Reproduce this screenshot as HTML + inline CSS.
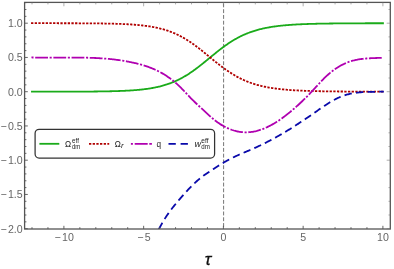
<!DOCTYPE html>
<html><head><meta charset="utf-8"><title>plot</title>
<style>
html,body{margin:0;padding:0;background:#fff;}
body{width:394px;height:269px;overflow:hidden;font-family:"Liberation Sans",sans-serif;}
svg{display:block;will-change:transform;font-family:"Liberation Sans",sans-serif;}
.tk line{stroke:#555;stroke-width:0.9;}
.lab text{font-size:10.6px;fill:#666;}
.cv path{fill:none;stroke-width:1.8;}
.lg text{fill:#222;}
</style></head><body>
<svg width="394" height="269" viewBox="0 0 394 269">
<rect x="0" y="0" width="394" height="269" fill="#fff"/>
<clipPath id="cp"><rect x="24.6" y="2.4" width="365.7" height="226.6"/></clipPath>
<line x1="223.60" y1="3.42" x2="223.60" y2="229.0" stroke="#666" stroke-width="0.9" stroke-dasharray="3.9 1.88"/>
<g class="cv" clip-path="url(#cp)">
<path d="M31.04,91.69 L31.84,91.69 L32.64,91.69 L33.44,91.69 L34.24,91.69 L35.03,91.69 L35.83,91.69 L36.63,91.69 L37.43,91.69 L38.23,91.69 L39.03,91.69 L39.82,91.69 L40.62,91.69 L41.42,91.69 L42.22,91.69 L43.02,91.69 L43.81,91.69 L44.61,91.69 L45.41,91.69 L46.21,91.69 L47.01,91.69 L47.81,91.69 L48.60,91.69 L49.40,91.68 L50.20,91.68 L51.00,91.68 L51.80,91.68 L52.59,91.68 L53.39,91.68 L54.19,91.68 L54.99,91.68 L55.79,91.68 L56.59,91.68 L57.38,91.68 L58.18,91.67 L58.98,91.67 L59.78,91.67 L60.58,91.67 L61.38,91.67 L62.17,91.67 L62.97,91.67 L63.77,91.67 L64.57,91.66 L65.37,91.66 L66.16,91.66 L66.96,91.66 L67.76,91.66 L68.56,91.66 L69.36,91.65 L70.16,91.65 L70.95,91.65 L71.75,91.65 L72.55,91.64 L73.35,91.64 L74.15,91.64 L74.95,91.64 L75.74,91.63 L76.54,91.63 L77.34,91.63 L78.14,91.62 L78.94,91.62 L79.73,91.62 L80.53,91.61 L81.33,91.61 L82.13,91.61 L82.93,91.60 L83.73,91.60 L84.52,91.59 L85.32,91.59 L86.12,91.58 L86.92,91.58 L87.72,91.57 L88.51,91.57 L89.31,91.56 L90.11,91.55 L90.91,91.55 L91.71,91.54 L92.51,91.53 L93.30,91.53 L94.10,91.52 L94.90,91.51 L95.70,91.50 L96.50,91.49 L97.30,91.48 L98.09,91.47 L98.89,91.47 L99.69,91.45 L100.49,91.44 L101.29,91.43 L102.08,91.42 L102.88,91.41 L103.68,91.40 L104.48,91.38 L105.28,91.37 L106.08,91.36 L106.87,91.34 L107.67,91.32 L108.47,91.31 L109.27,91.29 L110.07,91.27 L110.87,91.26 L111.66,91.24 L112.46,91.22 L113.26,91.20 L114.06,91.17 L114.86,91.15 L115.65,91.13 L116.45,91.10 L117.25,91.08 L118.05,91.05 L118.85,91.02 L119.65,90.99 L120.44,90.96 L121.24,90.93 L122.04,90.90 L122.84,90.87 L123.64,90.83 L124.43,90.80 L125.23,90.76 L126.03,90.72 L126.83,90.68 L127.63,90.63 L128.43,90.59 L129.22,90.54 L130.02,90.49 L130.82,90.44 L131.62,90.39 L132.42,90.34 L133.22,90.28 L134.01,90.22 L134.81,90.16 L135.61,90.09 L136.41,90.03 L137.21,89.96 L138.00,89.89 L138.80,89.81 L139.60,89.74 L140.40,89.66 L141.20,89.57 L142.00,89.49 L142.79,89.40 L143.59,89.30 L144.39,89.21 L145.19,89.11 L145.99,89.00 L146.79,88.89 L147.58,88.78 L148.38,88.66 L149.18,88.54 L149.98,88.42 L150.78,88.29 L151.57,88.15 L152.37,88.01 L153.17,87.87 L153.97,87.72 L154.77,87.56 L155.57,87.40 L156.36,87.23 L157.16,87.06 L157.96,86.88 L158.76,86.70 L159.56,86.51 L160.35,86.31 L161.15,86.11 L161.95,85.90 L162.75,85.68 L163.55,85.45 L164.35,85.22 L165.14,84.98 L165.94,84.73 L166.74,84.48 L167.54,84.21 L168.34,83.94 L169.14,83.66 L169.93,83.37 L170.73,83.08 L171.53,82.77 L172.33,82.45 L173.13,82.13 L173.92,81.80 L174.72,81.46 L175.52,81.10 L176.32,80.74 L177.12,80.37 L177.92,79.99 L178.71,79.60 L179.51,79.20 L180.31,78.79 L181.11,78.37 L181.91,77.94 L182.71,77.50 L183.50,77.05 L184.30,76.59 L185.10,76.12 L185.90,75.64 L186.70,75.15 L187.49,74.66 L188.29,74.15 L189.09,73.63 L189.89,73.10 L190.69,72.57 L191.49,72.02 L192.28,71.47 L193.08,70.91 L193.88,70.34 L194.68,69.76 L195.48,69.17 L196.27,68.58 L197.07,67.98 L197.87,67.37 L198.67,66.76 L199.47,66.14 L200.27,65.52 L201.06,64.89 L201.86,64.25 L202.66,63.61 L203.46,62.97 L204.26,62.32 L205.06,61.68 L205.85,61.02 L206.65,60.37 L207.45,59.71 L208.25,59.06 L209.05,58.40 L209.84,57.74 L210.64,57.09 L211.44,56.43 L212.24,55.77 L213.04,55.12 L213.84,54.47 L214.63,53.82 L215.43,53.18 L216.23,52.54 L217.03,51.90 L217.83,51.27 L218.63,50.64 L219.42,50.02 L220.22,49.40 L221.02,48.79 L221.82,48.18 L222.62,47.58 L223.41,46.99 L224.21,46.41 L225.01,45.83 L225.81,45.27 L226.61,44.71 L227.41,44.15 L228.20,43.61 L229.00,43.08 L229.80,42.55 L230.60,42.03 L231.40,41.52 L232.19,41.03 L232.99,40.54 L233.79,40.06 L234.59,39.59 L235.39,39.13 L236.19,38.67 L236.98,38.23 L237.78,37.80 L238.58,37.38 L239.38,36.96 L240.18,36.56 L240.98,36.16 L241.77,35.78 L242.57,35.40 L243.37,35.04 L244.17,34.68 L244.97,34.33 L245.76,33.99 L246.56,33.66 L247.36,33.34 L248.16,33.02 L248.96,32.72 L249.76,32.42 L250.55,32.13 L251.35,31.85 L252.15,31.58 L252.95,31.31 L253.75,31.05 L254.55,30.80 L255.34,30.56 L256.14,30.32 L256.94,30.09 L257.74,29.87 L258.54,29.66 L259.33,29.45 L260.13,29.24 L260.93,29.05 L261.73,28.85 L262.53,28.67 L263.33,28.49 L264.12,28.32 L264.92,28.15 L265.72,27.99 L266.52,27.83 L267.32,27.67 L268.11,27.53 L268.91,27.38 L269.71,27.24 L270.51,27.11 L271.31,26.98 L272.11,26.85 L272.90,26.73 L273.70,26.61 L274.50,26.50 L275.30,26.39 L276.10,26.28 L276.90,26.18 L277.69,26.08 L278.49,25.98 L279.29,25.89 L280.09,25.80 L280.89,25.71 L281.68,25.63 L282.48,25.55 L283.28,25.47 L284.08,25.39 L284.88,25.32 L285.68,25.25 L286.47,25.18 L287.27,25.11 L288.07,25.05 L288.87,24.98 L289.67,24.92 L290.47,24.87 L291.26,24.81 L292.06,24.76 L292.86,24.70 L293.66,24.65 L294.46,24.61 L295.25,24.56 L296.05,24.51 L296.85,24.47 L297.65,24.43 L298.45,24.38 L299.25,24.34 L300.04,24.31 L300.84,24.27 L301.64,24.23 L302.44,24.20 L303.24,24.17 L304.03,24.13 L304.83,24.10 L305.63,24.07 L306.43,24.04 L307.23,24.01 L308.03,23.99 L308.82,23.96 L309.62,23.94 L310.42,23.91 L311.22,23.89 L312.02,23.86 L312.82,23.84 L313.61,23.82 L314.41,23.80 L315.21,23.78 L316.01,23.76 L316.81,23.74 L317.60,23.72 L318.40,23.71 L319.20,23.69 L320.00,23.67 L320.80,23.66 L321.60,23.64 L322.39,23.63 L323.19,23.61 L323.99,23.60 L324.79,23.59 L325.59,23.58 L326.39,23.56 L327.18,23.55 L327.98,23.54 L328.78,23.53 L329.58,23.52 L330.38,23.51 L331.17,23.50 L331.97,23.49 L332.77,23.48 L333.57,23.47 L334.37,23.46 L335.17,23.45 L335.96,23.44 L336.76,23.44 L337.56,23.43 L338.36,23.42 L339.16,23.41 L339.95,23.41 L340.75,23.40 L341.55,23.39 L342.35,23.39 L343.15,23.38 L343.95,23.38 L344.74,23.37 L345.54,23.36 L346.34,23.36 L347.14,23.35 L347.94,23.35 L348.74,23.34 L349.53,23.34 L350.33,23.34 L351.13,23.33 L351.93,23.33 L352.73,23.32 L353.52,23.32 L354.32,23.31 L355.12,23.31 L355.92,23.31 L356.72,23.30 L357.52,23.30 L358.31,23.30 L359.11,23.29 L359.91,23.29 L360.71,23.29 L361.51,23.29 L362.31,23.28 L363.10,23.28 L363.90,23.28 L364.70,23.28 L365.50,23.27 L366.30,23.27 L367.09,23.27 L367.89,23.27 L368.69,23.26 L369.49,23.26 L370.29,23.26 L371.09,23.26 L371.88,23.26 L372.68,23.26 L373.48,23.25 L374.28,23.25 L375.08,23.25 L375.87,23.25 L376.67,23.25 L377.47,23.25 L378.27,23.24 L379.07,23.24 L379.87,23.24 L380.66,23.24 L381.46,23.24 L382.26,23.24 L383.06,23.24 L383.86,23.24" stroke="#1aab1a"/>
<path d="M31.04,23.21 L31.84,23.21 L32.64,23.21 L33.44,23.21 L34.24,23.21 L35.03,23.21 L35.83,23.21 L36.63,23.21 L37.43,23.21 L38.23,23.21 L39.03,23.21 L39.82,23.21 L40.62,23.21 L41.42,23.21 L42.22,23.21 L43.02,23.21 L43.81,23.21 L44.61,23.21 L45.41,23.21 L46.21,23.21 L47.01,23.21 L47.81,23.21 L48.60,23.21 L49.40,23.22 L50.20,23.22 L51.00,23.22 L51.80,23.22 L52.59,23.22 L53.39,23.22 L54.19,23.22 L54.99,23.22 L55.79,23.22 L56.59,23.22 L57.38,23.22 L58.18,23.23 L58.98,23.23 L59.78,23.23 L60.58,23.23 L61.38,23.23 L62.17,23.23 L62.97,23.23 L63.77,23.23 L64.57,23.24 L65.37,23.24 L66.16,23.24 L66.96,23.24 L67.76,23.24 L68.56,23.24 L69.36,23.25 L70.16,23.25 L70.95,23.25 L71.75,23.25 L72.55,23.26 L73.35,23.26 L74.15,23.26 L74.95,23.26 L75.74,23.27 L76.54,23.27 L77.34,23.27 L78.14,23.28 L78.94,23.28 L79.73,23.28 L80.53,23.29 L81.33,23.29 L82.13,23.29 L82.93,23.30 L83.73,23.30 L84.52,23.31 L85.32,23.31 L86.12,23.32 L86.92,23.32 L87.72,23.33 L88.51,23.33 L89.31,23.34 L90.11,23.35 L90.91,23.35 L91.71,23.36 L92.51,23.37 L93.30,23.37 L94.10,23.38 L94.90,23.39 L95.70,23.40 L96.50,23.41 L97.30,23.42 L98.09,23.43 L98.89,23.43 L99.69,23.45 L100.49,23.46 L101.29,23.47 L102.08,23.48 L102.88,23.49 L103.68,23.50 L104.48,23.52 L105.28,23.53 L106.08,23.54 L106.87,23.56 L107.67,23.58 L108.47,23.59 L109.27,23.61 L110.07,23.63 L110.87,23.64 L111.66,23.66 L112.46,23.68 L113.26,23.70 L114.06,23.73 L114.86,23.75 L115.65,23.77 L116.45,23.80 L117.25,23.82 L118.05,23.85 L118.85,23.88 L119.65,23.91 L120.44,23.94 L121.24,23.97 L122.04,24.00 L122.84,24.03 L123.64,24.07 L124.43,24.10 L125.23,24.14 L126.03,24.18 L126.83,24.22 L127.63,24.27 L128.43,24.31 L129.22,24.36 L130.02,24.41 L130.82,24.46 L131.62,24.51 L132.42,24.56 L133.22,24.62 L134.01,24.68 L134.81,24.74 L135.61,24.81 L136.41,24.87 L137.21,24.94 L138.00,25.01 L138.80,25.09 L139.60,25.16 L140.40,25.24 L141.20,25.33 L142.00,25.41 L142.79,25.50 L143.59,25.60 L144.39,25.69 L145.19,25.79 L145.99,25.90 L146.79,26.01 L147.58,26.12 L148.38,26.24 L149.18,26.36 L149.98,26.48 L150.78,26.61 L151.57,26.75 L152.37,26.89 L153.17,27.03 L153.97,27.18 L154.77,27.34 L155.57,27.50 L156.36,27.67 L157.16,27.84 L157.96,28.02 L158.76,28.20 L159.56,28.39 L160.35,28.59 L161.15,28.79 L161.95,29.00 L162.75,29.22 L163.55,29.45 L164.35,29.68 L165.14,29.92 L165.94,30.17 L166.74,30.42 L167.54,30.69 L168.34,30.96 L169.14,31.24 L169.93,31.53 L170.73,31.82 L171.53,32.13 L172.33,32.45 L173.13,32.77 L173.92,33.10 L174.72,33.44 L175.52,33.80 L176.32,34.16 L177.12,34.53 L177.92,34.91 L178.71,35.30 L179.51,35.70 L180.31,36.11 L181.11,36.53 L181.91,36.96 L182.71,37.40 L183.50,37.85 L184.30,38.31 L185.10,38.78 L185.90,39.26 L186.70,39.75 L187.49,40.24 L188.29,40.75 L189.09,41.27 L189.89,41.80 L190.69,42.33 L191.49,42.88 L192.28,43.43 L193.08,43.99 L193.88,44.56 L194.68,45.14 L195.48,45.73 L196.27,46.32 L197.07,46.92 L197.87,47.53 L198.67,48.14 L199.47,48.76 L200.27,49.38 L201.06,50.01 L201.86,50.65 L202.66,51.29 L203.46,51.93 L204.26,52.58 L205.06,53.22 L205.85,53.88 L206.65,54.53 L207.45,55.19 L208.25,55.84 L209.05,56.50 L209.84,57.16 L210.64,57.81 L211.44,58.47 L212.24,59.13 L213.04,59.78 L213.84,60.43 L214.63,61.08 L215.43,61.72 L216.23,62.36 L217.03,63.00 L217.83,63.63 L218.63,64.26 L219.42,64.88 L220.22,65.50 L221.02,66.11 L221.82,66.72 L222.62,67.32 L223.41,67.91 L224.21,68.49 L225.01,69.07 L225.81,69.63 L226.61,70.19 L227.41,70.75 L228.20,71.29 L229.00,71.82 L229.80,72.35 L230.60,72.87 L231.40,73.38 L232.19,73.87 L232.99,74.36 L233.79,74.84 L234.59,75.31 L235.39,75.77 L236.19,76.23 L236.98,76.67 L237.78,77.10 L238.58,77.52 L239.38,77.94 L240.18,78.34 L240.98,78.74 L241.77,79.12 L242.57,79.50 L243.37,79.86 L244.17,80.22 L244.97,80.57 L245.76,80.91 L246.56,81.24 L247.36,81.56 L248.16,81.88 L248.96,82.18 L249.76,82.48 L250.55,82.77 L251.35,83.05 L252.15,83.32 L252.95,83.59 L253.75,83.85 L254.55,84.10 L255.34,84.34 L256.14,84.58 L256.94,84.81 L257.74,85.03 L258.54,85.24 L259.33,85.45 L260.13,85.66 L260.93,85.85 L261.73,86.05 L262.53,86.23 L263.33,86.41 L264.12,86.58 L264.92,86.75 L265.72,86.91 L266.52,87.07 L267.32,87.23 L268.11,87.37 L268.91,87.52 L269.71,87.66 L270.51,87.79 L271.31,87.92 L272.11,88.05 L272.90,88.17 L273.70,88.29 L274.50,88.40 L275.30,88.51 L276.10,88.62 L276.90,88.72 L277.69,88.82 L278.49,88.92 L279.29,89.01 L280.09,89.10 L280.89,89.19 L281.68,89.27 L282.48,89.35 L283.28,89.43 L284.08,89.51 L284.88,89.58 L285.68,89.65 L286.47,89.72 L287.27,89.79 L288.07,89.85 L288.87,89.92 L289.67,89.98 L290.47,90.03 L291.26,90.09 L292.06,90.14 L292.86,90.20 L293.66,90.25 L294.46,90.29 L295.25,90.34 L296.05,90.39 L296.85,90.43 L297.65,90.47 L298.45,90.52 L299.25,90.56 L300.04,90.59 L300.84,90.63 L301.64,90.67 L302.44,90.70 L303.24,90.73 L304.03,90.77 L304.83,90.80 L305.63,90.83 L306.43,90.86 L307.23,90.89 L308.03,90.91 L308.82,90.94 L309.62,90.96 L310.42,90.99 L311.22,91.01 L312.02,91.04 L312.82,91.06 L313.61,91.08 L314.41,91.10 L315.21,91.12 L316.01,91.14 L316.81,91.16 L317.60,91.18 L318.40,91.19 L319.20,91.21 L320.00,91.23 L320.80,91.24 L321.60,91.26 L322.39,91.27 L323.19,91.29 L323.99,91.30 L324.79,91.31 L325.59,91.32 L326.39,91.34 L327.18,91.35 L327.98,91.36 L328.78,91.37 L329.58,91.38 L330.38,91.39 L331.17,91.40 L331.97,91.41 L332.77,91.42 L333.57,91.43 L334.37,91.44 L335.17,91.45 L335.96,91.46 L336.76,91.46 L337.56,91.47 L338.36,91.48 L339.16,91.49 L339.95,91.49 L340.75,91.50 L341.55,91.51 L342.35,91.51 L343.15,91.52 L343.95,91.52 L344.74,91.53 L345.54,91.54 L346.34,91.54 L347.14,91.55 L347.94,91.55 L348.74,91.56 L349.53,91.56 L350.33,91.56 L351.13,91.57 L351.93,91.57 L352.73,91.58 L353.52,91.58 L354.32,91.59 L355.12,91.59 L355.92,91.59 L356.72,91.60 L357.52,91.60 L358.31,91.60 L359.11,91.61 L359.91,91.61 L360.71,91.61 L361.51,91.61 L362.31,91.62 L363.10,91.62 L363.90,91.62 L364.70,91.62 L365.50,91.63 L366.30,91.63 L367.09,91.63 L367.89,91.63 L368.69,91.64 L369.49,91.64 L370.29,91.64 L371.09,91.64 L371.88,91.64 L372.68,91.64 L373.48,91.65 L374.28,91.65 L375.08,91.65 L375.87,91.65 L376.67,91.65 L377.47,91.65 L378.27,91.66 L379.07,91.66 L379.87,91.66 L380.66,91.66 L381.46,91.66 L382.26,91.66 L383.06,91.66 L383.86,91.66" stroke="#b00000" stroke-width="2.2" stroke-dasharray="2.3 1.37"/>
<path d="M31.04,57.43 L31.84,57.45 L32.64,57.48 L33.44,57.50 L34.24,57.52 L35.03,57.53 L35.83,57.55 L36.63,57.57 L37.43,57.58 L38.23,57.59 L39.03,57.61 L39.82,57.62 L40.62,57.62 L41.42,57.63 L42.22,57.64 L43.02,57.65 L43.81,57.65 L44.61,57.66 L45.41,57.66 L46.21,57.66 L47.01,57.66 L47.81,57.66 L48.60,57.66 L49.40,57.66 L50.20,57.66 L51.00,57.66 L51.80,57.66 L52.59,57.66 L53.39,57.65 L54.19,57.65 L54.99,57.65 L55.79,57.64 L56.59,57.64 L57.38,57.63 L58.18,57.63 L58.98,57.62 L59.78,57.62 L60.58,57.61 L61.38,57.61 L62.17,57.60 L62.97,57.60 L63.77,57.59 L64.57,57.59 L65.37,57.59 L66.16,57.58 L66.96,57.58 L67.76,57.57 L68.56,57.57 L69.36,57.57 L70.16,57.57 L70.95,57.57 L71.75,57.56 L72.55,57.56 L73.35,57.56 L74.15,57.57 L74.95,57.57 L75.74,57.57 L76.54,57.57 L77.34,57.58 L78.14,57.58 L78.94,57.59 L79.73,57.60 L80.53,57.60 L81.33,57.61 L82.13,57.62 L82.93,57.64 L83.73,57.65 L84.52,57.66 L85.32,57.68 L86.12,57.69 L86.92,57.71 L87.72,57.73 L88.51,57.75 L89.31,57.78 L90.11,57.80 L90.91,57.83 L91.71,57.85 L92.51,57.88 L93.30,57.91 L94.10,57.95 L94.90,57.98 L95.70,58.02 L96.50,58.06 L97.30,58.10 L98.09,58.14 L98.89,58.19 L99.69,58.23 L100.49,58.28 L101.29,58.33 L102.08,58.39 L102.88,58.44 L103.68,58.50 L104.48,58.56 L105.28,58.62 L106.08,58.69 L106.87,58.75 L107.67,58.82 L108.47,58.90 L109.27,58.97 L110.07,59.05 L110.87,59.13 L111.66,59.22 L112.46,59.30 L113.26,59.39 L114.06,59.48 L114.86,59.58 L115.65,59.68 L116.45,59.78 L117.25,59.88 L118.05,59.99 L118.85,60.10 L119.65,60.21 L120.44,60.33 L121.24,60.45 L122.04,60.58 L122.84,60.70 L123.64,60.83 L124.43,60.97 L125.23,61.10 L126.03,61.25 L126.83,61.39 L127.63,61.54 L128.43,61.69 L129.22,61.85 L130.02,62.01 L130.82,62.17 L131.62,62.34 L132.42,62.51 L133.22,62.68 L134.01,62.86 L134.81,63.04 L135.61,63.23 L136.41,63.42 L137.21,63.62 L138.00,63.82 L138.80,64.02 L139.60,64.23 L140.40,64.45 L141.20,64.67 L142.00,64.90 L142.79,65.13 L143.59,65.37 L144.39,65.62 L145.19,65.87 L145.99,66.13 L146.79,66.40 L147.58,66.67 L148.38,66.96 L149.18,67.25 L149.98,67.54 L150.78,67.85 L151.57,68.17 L152.37,68.49 L153.17,68.82 L153.97,69.17 L154.77,69.52 L155.57,69.88 L156.36,70.25 L157.16,70.63 L157.96,71.02 L158.76,71.43 L159.56,71.84 L160.35,72.27 L161.15,72.70 L161.95,73.15 L162.75,73.61 L163.55,74.08 L164.35,74.56 L165.14,75.06 L165.94,75.57 L166.74,76.09 L167.54,76.63 L168.34,77.17 L169.14,77.74 L169.93,78.31 L170.73,78.90 L171.53,79.51 L172.33,80.12 L173.13,80.76 L173.92,81.41 L174.72,82.07 L175.52,82.75 L176.32,83.44 L177.12,84.15 L177.92,84.88 L178.71,85.62 L179.51,86.38 L180.31,87.16 L181.11,87.95 L181.91,88.76 L182.71,89.58 L183.50,90.41 L184.30,91.25 L185.10,92.09 L185.90,92.94 L186.70,93.79 L187.49,94.64 L188.29,95.49 L189.09,96.34 L189.89,97.17 L190.69,98.01 L191.49,98.83 L192.28,99.64 L193.08,100.44 L193.88,101.22 L194.68,101.99 L195.48,102.75 L196.27,103.50 L197.07,104.25 L197.87,104.99 L198.67,105.73 L199.47,106.47 L200.27,107.21 L201.06,107.95 L201.86,108.70 L202.66,109.45 L203.46,110.20 L204.26,110.94 L205.06,111.69 L205.85,112.43 L206.65,113.17 L207.45,113.91 L208.25,114.63 L209.05,115.35 L209.84,116.07 L210.64,116.77 L211.44,117.46 L212.24,118.14 L213.04,118.81 L213.84,119.47 L214.63,120.10 L215.43,120.73 L216.23,121.33 L217.03,121.92 L217.83,122.50 L218.63,123.05 L219.42,123.59 L220.22,124.12 L221.02,124.62 L221.82,125.11 L222.62,125.59 L223.41,126.04 L224.21,126.48 L225.01,126.91 L225.81,127.32 L226.61,127.71 L227.41,128.08 L228.20,128.44 L229.00,128.79 L229.80,129.11 L230.60,129.42 L231.40,129.72 L232.19,130.00 L232.99,130.26 L233.79,130.51 L234.59,130.74 L235.39,130.95 L236.19,131.15 L236.98,131.34 L237.78,131.50 L238.58,131.65 L239.38,131.79 L240.18,131.91 L240.98,132.02 L241.77,132.10 L242.57,132.18 L243.37,132.24 L244.17,132.28 L244.97,132.31 L245.76,132.32 L246.56,132.31 L247.36,132.29 L248.16,132.26 L248.96,132.21 L249.76,132.15 L250.55,132.07 L251.35,131.97 L252.15,131.86 L252.95,131.74 L253.75,131.59 L254.55,131.44 L255.34,131.27 L256.14,131.09 L256.94,130.89 L257.74,130.67 L258.54,130.45 L259.33,130.21 L260.13,129.95 L260.93,129.68 L261.73,129.40 L262.53,129.11 L263.33,128.80 L264.12,128.48 L264.92,128.14 L265.72,127.80 L266.52,127.44 L267.32,127.07 L268.11,126.68 L268.91,126.29 L269.71,125.88 L270.51,125.46 L271.31,125.03 L272.11,124.59 L272.90,124.14 L273.70,123.67 L274.50,123.20 L275.30,122.72 L276.10,122.22 L276.90,121.71 L277.69,121.20 L278.49,120.67 L279.29,120.14 L280.09,119.59 L280.89,119.04 L281.68,118.47 L282.48,117.90 L283.28,117.32 L284.08,116.73 L284.88,116.13 L285.68,115.52 L286.47,114.90 L287.27,114.28 L288.07,113.64 L288.87,113.00 L289.67,112.35 L290.47,111.70 L291.26,111.04 L292.06,110.36 L292.86,109.69 L293.66,109.00 L294.46,108.31 L295.25,107.61 L296.05,106.90 L296.85,106.19 L297.65,105.47 L298.45,104.74 L299.25,104.00 L300.04,103.26 L300.84,102.51 L301.64,101.76 L302.44,100.99 L303.24,100.22 L304.03,99.44 L304.83,98.66 L305.63,97.87 L306.43,97.07 L307.23,96.27 L308.03,95.46 L308.82,94.64 L309.62,93.81 L310.42,92.98 L311.22,92.14 L312.02,91.30 L312.82,90.45 L313.61,89.59 L314.41,88.72 L315.21,87.85 L316.01,86.98 L316.81,86.11 L317.60,85.24 L318.40,84.37 L319.20,83.51 L320.00,82.65 L320.80,81.79 L321.60,80.95 L322.39,80.12 L323.19,79.30 L323.99,78.49 L324.79,77.70 L325.59,76.92 L326.39,76.17 L327.18,75.43 L327.98,74.71 L328.78,74.01 L329.58,73.33 L330.38,72.66 L331.17,72.01 L331.97,71.38 L332.77,70.77 L333.57,70.18 L334.37,69.60 L335.17,69.04 L335.96,68.49 L336.76,67.97 L337.56,67.46 L338.36,66.96 L339.16,66.48 L339.95,66.02 L340.75,65.58 L341.55,65.15 L342.35,64.73 L343.15,64.33 L343.95,63.95 L344.74,63.58 L345.54,63.23 L346.34,62.89 L347.14,62.57 L347.94,62.26 L348.74,61.97 L349.53,61.69 L350.33,61.43 L351.13,61.18 L351.93,60.94 L352.73,60.72 L353.52,60.50 L354.32,60.30 L355.12,60.12 L355.92,59.94 L356.72,59.78 L357.52,59.62 L358.31,59.48 L359.11,59.34 L359.91,59.21 L360.71,59.10 L361.51,58.99 L362.31,58.89 L363.10,58.80 L363.90,58.71 L364.70,58.63 L365.50,58.56 L366.30,58.49 L367.09,58.43 L367.89,58.38 L368.69,58.32 L369.49,58.28 L370.29,58.24 L371.09,58.20 L371.88,58.16 L372.68,58.13 L373.48,58.09 L374.28,58.06 L375.08,58.04 L375.87,58.01 L376.67,57.98 L377.47,57.96 L378.27,57.93 L379.07,57.90 L379.87,57.87 L380.66,57.84 L381.46,57.81 L382.26,57.78" stroke="#b000b0" stroke-dasharray="2.1 1.65 12.8 1.64" stroke-dashoffset="-0.4"/>
<path d="M157.00,233.00 L157.76,231.43 L158.52,229.90 L159.28,228.42 L160.03,226.97 L160.79,225.57 L161.55,224.20 L162.31,222.87 L163.07,221.57 L163.83,220.31 L164.59,219.08 L165.35,217.88 L166.10,216.71 L166.86,215.57 L167.62,214.46 L168.38,213.37 L169.14,212.30 L169.90,211.26 L170.66,210.23 L171.42,209.23 L172.17,208.24 L172.93,207.27 L173.69,206.32 L174.45,205.38 L175.21,204.45 L175.97,203.53 L176.73,202.62 L177.49,201.72 L178.24,200.83 L179.00,199.94 L179.76,199.05 L180.52,198.17 L181.28,197.29 L182.04,196.42 L182.80,195.56 L183.56,194.70 L184.31,193.85 L185.07,193.00 L185.83,192.17 L186.59,191.34 L187.35,190.52 L188.11,189.71 L188.87,188.90 L189.62,188.11 L190.38,187.33 L191.14,186.56 L191.90,185.79 L192.66,185.04 L193.42,184.30 L194.18,183.57 L194.94,182.86 L195.69,182.15 L196.45,181.46 L197.21,180.79 L197.97,180.12 L198.73,179.48 L199.49,178.84 L200.25,178.22 L201.01,177.62 L201.76,177.03 L202.52,176.45 L203.28,175.88 L204.04,175.33 L204.80,174.78 L205.56,174.24 L206.32,173.72 L207.08,173.20 L207.83,172.68 L208.59,172.18 L209.35,171.68 L210.11,171.18 L210.87,170.68 L211.63,170.19 L212.39,169.70 L213.15,169.21 L213.90,168.72 L214.66,168.23 L215.42,167.74 L216.18,167.25 L216.94,166.77 L217.70,166.28 L218.46,165.80 L219.21,165.33 L219.97,164.85 L220.73,164.38 L221.49,163.91 L222.25,163.45 L223.01,162.99 L223.77,162.54 L224.53,162.09 L225.28,161.65 L226.04,161.21 L226.80,160.78 L227.56,160.36 L228.32,159.94 L229.08,159.54 L229.84,159.13 L230.60,158.74 L231.35,158.35 L232.11,157.97 L232.87,157.60 L233.63,157.23 L234.39,156.86 L235.15,156.51 L235.91,156.15 L236.67,155.80 L237.42,155.46 L238.18,155.12 L238.94,154.78 L239.70,154.44 L240.46,154.11 L241.22,153.78 L241.98,153.46 L242.74,153.13 L243.49,152.81 L244.25,152.49 L245.01,152.16 L245.77,151.84 L246.53,151.52 L247.29,151.20 L248.05,150.88 L248.81,150.56 L249.56,150.24 L250.32,149.91 L251.08,149.59 L251.84,149.26 L252.60,148.93 L253.36,148.59 L254.12,148.26 L254.87,147.92 L255.63,147.57 L256.39,147.23 L257.15,146.88 L257.91,146.53 L258.67,146.17 L259.43,145.81 L260.19,145.45 L260.94,145.09 L261.70,144.72 L262.46,144.35 L263.22,143.98 L263.98,143.60 L264.74,143.22 L265.50,142.84 L266.26,142.45 L267.01,142.07 L267.77,141.67 L268.53,141.28 L269.29,140.88 L270.05,140.48 L270.81,140.08 L271.57,139.68 L272.33,139.27 L273.08,138.86 L273.84,138.45 L274.60,138.03 L275.36,137.61 L276.12,137.19 L276.88,136.77 L277.64,136.34 L278.40,135.91 L279.15,135.48 L279.91,135.04 L280.67,134.61 L281.43,134.17 L282.19,133.72 L282.95,133.28 L283.71,132.83 L284.46,132.38 L285.22,131.93 L285.98,131.47 L286.74,131.02 L287.50,130.56 L288.26,130.09 L289.02,129.63 L289.78,129.16 L290.53,128.69 L291.29,128.22 L292.05,127.74 L292.81,127.27 L293.57,126.79 L294.33,126.31 L295.09,125.82 L295.85,125.34 L296.60,124.85 L297.36,124.36 L298.12,123.87 L298.88,123.37 L299.64,122.87 L300.40,122.37 L301.16,121.87 L301.92,121.37 L302.67,120.86 L303.43,120.35 L304.19,119.84 L304.95,119.33 L305.71,118.82 L306.47,118.30 L307.23,117.78 L307.99,117.26 L308.74,116.74 L309.50,116.22 L310.26,115.69 L311.02,115.16 L311.78,114.63 L312.54,114.10 L313.30,113.57 L314.05,113.03 L314.81,112.50 L315.57,111.96 L316.33,111.43 L317.09,110.90 L317.85,110.36 L318.61,109.83 L319.37,109.30 L320.12,108.78 L320.88,108.25 L321.64,107.73 L322.40,107.21 L323.16,106.70 L323.92,106.19 L324.68,105.69 L325.44,105.18 L326.19,104.69 L326.95,104.20 L327.71,103.72 L328.47,103.24 L329.23,102.77 L329.99,102.31 L330.75,101.85 L331.51,101.40 L332.26,100.96 L333.02,100.53 L333.78,100.11 L334.54,99.70 L335.30,99.30 L336.06,98.91 L336.82,98.53 L337.58,98.16 L338.33,97.80 L339.09,97.45 L339.85,97.12 L340.61,96.79 L341.37,96.48 L342.13,96.19 L342.89,95.91 L343.64,95.64 L344.40,95.38 L345.16,95.13 L345.92,94.90 L346.68,94.68 L347.44,94.47 L348.20,94.27 L348.96,94.08 L349.71,93.90 L350.47,93.74 L351.23,93.58 L351.99,93.43 L352.75,93.29 L353.51,93.16 L354.27,93.04 L355.03,92.92 L355.78,92.82 L356.54,92.72 L357.30,92.63 L358.06,92.54 L358.82,92.46 L359.58,92.39 L360.34,92.33 L361.10,92.27 L361.85,92.21 L362.61,92.16 L363.37,92.12 L364.13,92.08 L364.89,92.04 L365.65,92.01 L366.41,91.98 L367.17,91.95 L367.92,91.93 L368.68,91.91 L369.44,91.89 L370.20,91.88 L370.96,91.86 L371.72,91.85 L372.48,91.84 L373.23,91.82 L373.99,91.81 L374.75,91.80 L375.51,91.79 L376.27,91.78 L377.03,91.76 L377.79,91.75 L378.55,91.73 L379.30,91.72 L380.06,91.70 L380.82,91.67 L381.58,91.65 L382.34,91.62 L383.10,91.59 L383.86,91.55" stroke="#0a0aaa" stroke-dasharray="7.4 4.25" stroke-dashoffset="7.45"/>
</g>
<rect x="24.6" y="2.4" width="365.70" height="226.60" fill="none" stroke="#555" stroke-width="1.3"/>
<g class="tk"><line x1="32.00" y1="229.0" x2="32.00" y2="227.2"/><line x1="32.00" y1="2.4" x2="32.00" y2="4.4" style="stroke-width:0.6;stroke:#777"/><line x1="47.95" y1="229.0" x2="47.95" y2="227.2"/><line x1="47.95" y1="2.4" x2="47.95" y2="4.4" style="stroke-width:0.6;stroke:#777"/><line x1="63.90" y1="229.0" x2="63.90" y2="225.8"/><line x1="63.90" y1="2.4" x2="63.90" y2="6.3" style="stroke-width:0.6;stroke:#777"/><line x1="79.85" y1="229.0" x2="79.85" y2="227.2"/><line x1="79.85" y1="2.4" x2="79.85" y2="4.4" style="stroke-width:0.6;stroke:#777"/><line x1="95.80" y1="229.0" x2="95.80" y2="227.2"/><line x1="95.80" y1="2.4" x2="95.80" y2="4.4" style="stroke-width:0.6;stroke:#777"/><line x1="111.75" y1="229.0" x2="111.75" y2="227.2"/><line x1="111.75" y1="2.4" x2="111.75" y2="4.4" style="stroke-width:0.6;stroke:#777"/><line x1="127.70" y1="229.0" x2="127.70" y2="227.2"/><line x1="127.70" y1="2.4" x2="127.70" y2="4.4" style="stroke-width:0.6;stroke:#777"/><line x1="143.65" y1="229.0" x2="143.65" y2="225.8"/><line x1="143.65" y1="2.4" x2="143.65" y2="6.3" style="stroke-width:0.6;stroke:#777"/><line x1="159.60" y1="229.0" x2="159.60" y2="227.2"/><line x1="159.60" y1="2.4" x2="159.60" y2="4.4" style="stroke-width:0.6;stroke:#777"/><line x1="175.55" y1="229.0" x2="175.55" y2="227.2"/><line x1="175.55" y1="2.4" x2="175.55" y2="4.4" style="stroke-width:0.6;stroke:#777"/><line x1="191.50" y1="229.0" x2="191.50" y2="227.2"/><line x1="191.50" y1="2.4" x2="191.50" y2="4.4" style="stroke-width:0.6;stroke:#777"/><line x1="207.45" y1="229.0" x2="207.45" y2="227.2"/><line x1="207.45" y1="2.4" x2="207.45" y2="4.4" style="stroke-width:0.6;stroke:#777"/><line x1="223.40" y1="229.0" x2="223.40" y2="225.8"/><line x1="223.40" y1="2.4" x2="223.40" y2="6.3" style="stroke-width:0.6;stroke:#777"/><line x1="239.35" y1="229.0" x2="239.35" y2="227.2"/><line x1="239.35" y1="2.4" x2="239.35" y2="4.4" style="stroke-width:0.6;stroke:#777"/><line x1="255.30" y1="229.0" x2="255.30" y2="227.2"/><line x1="255.30" y1="2.4" x2="255.30" y2="4.4" style="stroke-width:0.6;stroke:#777"/><line x1="271.25" y1="229.0" x2="271.25" y2="227.2"/><line x1="271.25" y1="2.4" x2="271.25" y2="4.4" style="stroke-width:0.6;stroke:#777"/><line x1="287.20" y1="229.0" x2="287.20" y2="227.2"/><line x1="287.20" y1="2.4" x2="287.20" y2="4.4" style="stroke-width:0.6;stroke:#777"/><line x1="303.15" y1="229.0" x2="303.15" y2="225.8"/><line x1="303.15" y1="2.4" x2="303.15" y2="6.3" style="stroke-width:0.6;stroke:#777"/><line x1="319.10" y1="229.0" x2="319.10" y2="227.2"/><line x1="319.10" y1="2.4" x2="319.10" y2="4.4" style="stroke-width:0.6;stroke:#777"/><line x1="335.05" y1="229.0" x2="335.05" y2="227.2"/><line x1="335.05" y1="2.4" x2="335.05" y2="4.4" style="stroke-width:0.6;stroke:#777"/><line x1="351.00" y1="229.0" x2="351.00" y2="227.2"/><line x1="351.00" y1="2.4" x2="351.00" y2="4.4" style="stroke-width:0.6;stroke:#777"/><line x1="366.95" y1="229.0" x2="366.95" y2="227.2"/><line x1="366.95" y1="2.4" x2="366.95" y2="4.4" style="stroke-width:0.6;stroke:#777"/><line x1="382.90" y1="229.0" x2="382.90" y2="225.8"/><line x1="382.90" y1="2.4" x2="382.90" y2="6.3" style="stroke-width:0.6;stroke:#777"/><line x1="24.6" y1="228.70" x2="27.8" y2="228.70"/><line x1="390.3" y1="228.70" x2="386.7" y2="228.70" style="stroke-width:0.6;stroke:#777"/><line x1="24.6" y1="221.85" x2="26.400000000000002" y2="221.85"/><line x1="24.6" y1="215.00" x2="26.400000000000002" y2="215.00"/><line x1="390.3" y1="215.00" x2="388.5" y2="215.00" style="stroke-width:0.6;stroke:#777"/><line x1="24.6" y1="208.15" x2="26.400000000000002" y2="208.15"/><line x1="24.6" y1="201.30" x2="26.400000000000002" y2="201.30"/><line x1="390.3" y1="201.30" x2="388.5" y2="201.30" style="stroke-width:0.6;stroke:#777"/><line x1="24.6" y1="194.45" x2="27.8" y2="194.45"/><line x1="24.6" y1="187.60" x2="26.400000000000002" y2="187.60"/><line x1="390.3" y1="187.60" x2="388.5" y2="187.60" style="stroke-width:0.6;stroke:#777"/><line x1="24.6" y1="180.75" x2="26.400000000000002" y2="180.75"/><line x1="24.6" y1="173.90" x2="26.400000000000002" y2="173.90"/><line x1="390.3" y1="173.90" x2="388.5" y2="173.90" style="stroke-width:0.6;stroke:#777"/><line x1="24.6" y1="167.05" x2="26.400000000000002" y2="167.05"/><line x1="24.6" y1="160.20" x2="27.8" y2="160.20"/><line x1="390.3" y1="160.20" x2="386.7" y2="160.20" style="stroke-width:0.6;stroke:#777"/><line x1="24.6" y1="153.35" x2="26.400000000000002" y2="153.35"/><line x1="24.6" y1="146.50" x2="26.400000000000002" y2="146.50"/><line x1="390.3" y1="146.50" x2="388.5" y2="146.50" style="stroke-width:0.6;stroke:#777"/><line x1="24.6" y1="139.65" x2="26.400000000000002" y2="139.65"/><line x1="24.6" y1="132.80" x2="26.400000000000002" y2="132.80"/><line x1="390.3" y1="132.80" x2="388.5" y2="132.80" style="stroke-width:0.6;stroke:#777"/><line x1="24.6" y1="125.95" x2="27.8" y2="125.95"/><line x1="24.6" y1="119.10" x2="26.400000000000002" y2="119.10"/><line x1="390.3" y1="119.10" x2="388.5" y2="119.10" style="stroke-width:0.6;stroke:#777"/><line x1="24.6" y1="112.25" x2="26.400000000000002" y2="112.25"/><line x1="24.6" y1="105.40" x2="26.400000000000002" y2="105.40"/><line x1="390.3" y1="105.40" x2="388.5" y2="105.40" style="stroke-width:0.6;stroke:#777"/><line x1="24.6" y1="98.55" x2="26.400000000000002" y2="98.55"/><line x1="24.6" y1="91.70" x2="27.8" y2="91.70"/><line x1="390.3" y1="91.70" x2="386.7" y2="91.70" style="stroke-width:0.6;stroke:#777"/><line x1="24.6" y1="84.85" x2="26.400000000000002" y2="84.85"/><line x1="24.6" y1="78.00" x2="26.400000000000002" y2="78.00"/><line x1="390.3" y1="78.00" x2="388.5" y2="78.00" style="stroke-width:0.6;stroke:#777"/><line x1="24.6" y1="71.15" x2="26.400000000000002" y2="71.15"/><line x1="24.6" y1="64.30" x2="26.400000000000002" y2="64.30"/><line x1="390.3" y1="64.30" x2="388.5" y2="64.30" style="stroke-width:0.6;stroke:#777"/><line x1="24.6" y1="57.45" x2="27.8" y2="57.45"/><line x1="24.6" y1="50.60" x2="26.400000000000002" y2="50.60"/><line x1="390.3" y1="50.60" x2="388.5" y2="50.60" style="stroke-width:0.6;stroke:#777"/><line x1="24.6" y1="43.75" x2="26.400000000000002" y2="43.75"/><line x1="24.6" y1="36.90" x2="26.400000000000002" y2="36.90"/><line x1="390.3" y1="36.90" x2="388.5" y2="36.90" style="stroke-width:0.6;stroke:#777"/><line x1="24.6" y1="30.05" x2="26.400000000000002" y2="30.05"/><line x1="24.6" y1="23.20" x2="27.8" y2="23.20"/><line x1="390.3" y1="23.20" x2="386.7" y2="23.20" style="stroke-width:0.6;stroke:#777"/><line x1="24.6" y1="16.35" x2="26.400000000000002" y2="16.35"/><line x1="24.6" y1="9.50" x2="26.400000000000002" y2="9.50"/><line x1="390.3" y1="9.50" x2="388.5" y2="9.50" style="stroke-width:0.6;stroke:#777"/><line x1="24.6" y1="2.65" x2="26.400000000000002" y2="2.65"/></g>
<g class="lab"><text x="22.7" y="27.20" text-anchor="end"><tspan>1.0</tspan></text><text x="22.7" y="61.45" text-anchor="end"><tspan>0.5</tspan></text><text x="22.7" y="95.70" text-anchor="end"><tspan>0.0</tspan></text><text x="22.7" y="129.95" text-anchor="end">−<tspan dx='1.3'>0.5</tspan></text><text x="22.7" y="164.20" text-anchor="end">−<tspan dx='1.3'>1.0</tspan></text><text x="22.7" y="198.45" text-anchor="end">−<tspan dx='1.3'>1.5</tspan></text><text x="22.7" y="232.70" text-anchor="end">−<tspan dx='1.3'>2.0</tspan></text><text x="64.20" y="241.4" text-anchor="middle">−<tspan dx='1.3'>10</tspan></text><text x="143.95" y="241.4" text-anchor="middle">−<tspan dx='1.3'>5</tspan></text><text x="223.40" y="241.4" text-anchor="middle"><tspan>0</tspan></text><text x="303.15" y="241.4" text-anchor="middle"><tspan>5</tspan></text><text x="382.90" y="241.4" text-anchor="middle"><tspan>10</tspan></text></g>
<g class="lg">
<rect x="35.1" y="129.3" width="179.5" height="28.8" rx="4" ry="4" fill="#fff" stroke="#333" stroke-width="1.25"/>
<g class="cv">
<path d="M39.4,143.8 H59.3" stroke="#1aab1a"/>
<path d="M89,143.8 H109.2" stroke="#b00000" stroke-width="2.2" stroke-dasharray="2.3 1.37"/>
<path d="M130.9,143.8 H151.9" stroke="#b000b0" stroke-dasharray="2 1.8 13 1.6 2.6 10"/>
<path d="M168.5,143.8 H188" stroke="#0a0aaa" stroke-dasharray="7.3 4.8"/>
</g>
<text x="64.9" y="147" font-size="9" textLength="6.1" lengthAdjust="spacingAndGlyphs">Ω</text>
<text x="72.1" y="143.3" font-size="7" textLength="6.8" lengthAdjust="spacingAndGlyphs">eff</text>
<text x="72.1" y="149" font-size="6.6" textLength="8.2" lengthAdjust="spacingAndGlyphs">dm</text>
<text x="114.8" y="147" font-size="9" textLength="6.1" lengthAdjust="spacingAndGlyphs">Ω</text>
<text x="121.1" y="148.2" font-size="7.8" font-style="italic">r</text>
<text x="156.4" y="146.7" font-size="8.2" fill="#444">q</text>
<text x="194.6" y="147" font-size="9" font-style="italic">w</text>
<text x="201.3" y="143.3" font-size="7" textLength="7.2" lengthAdjust="spacingAndGlyphs">eff</text>
<text x="201.3" y="149" font-size="6.6" textLength="8.6" lengthAdjust="spacingAndGlyphs">dm</text>
</g>
<text x="207.9" y="264.9" font-size="17.4" font-style="italic" text-anchor="middle" fill="#111" stroke="#111" stroke-width="0.3">τ</text>
</svg>
</body></html>
